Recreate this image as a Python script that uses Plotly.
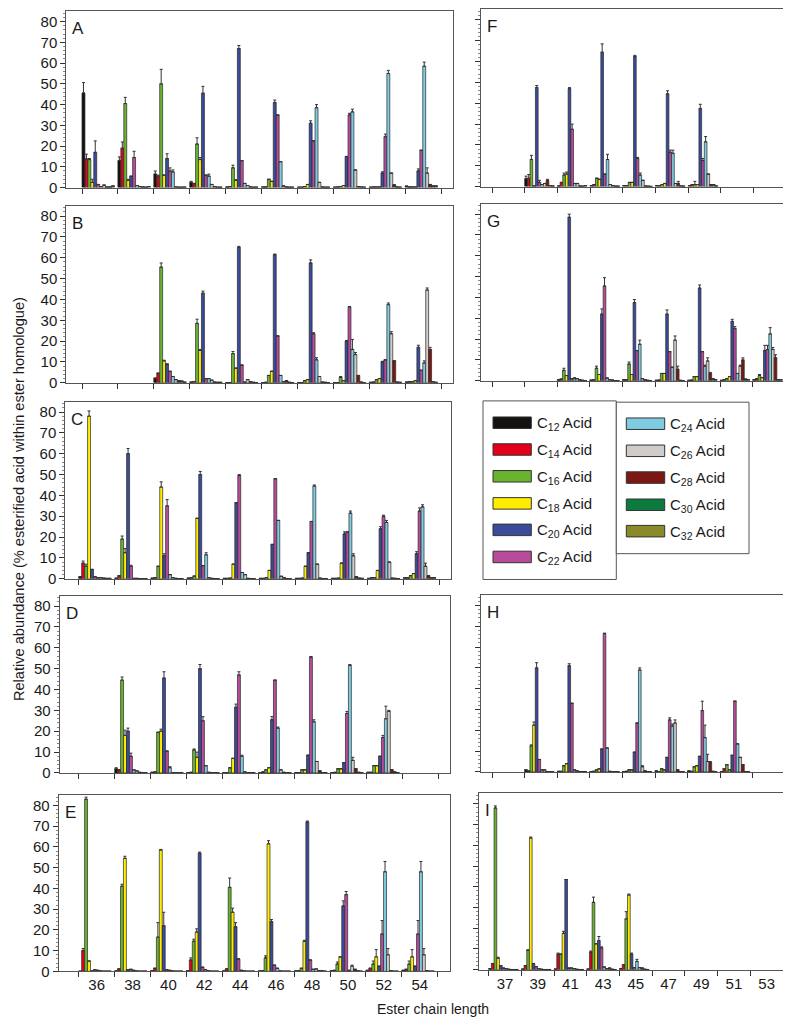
import plotly.graph_objects as go

W, H = 791, 1019

SERIES = ["C<sub>12</sub> Acid", "C<sub>14</sub> Acid", "C<sub>16</sub> Acid", "C<sub>18</sub> Acid",
          "C<sub>20</sub> Acid", "C<sub>22</sub> Acid", "C<sub>24</sub> Acid", "C<sub>26</sub> Acid",
          "C<sub>28</sub> Acid", "C<sub>30</sub> Acid", "C<sub>32</sub> Acid"]
COLORS = ["#141210", "#e2001a", "#69b32e", "#ffec00", "#3b4b9c", "#b84c9a",
          "#7fcbe2", "#cecbc8", "#7c1813", "#0b7a3c", "#8a8a2a"]

LEFT_GROUPS = ["36", "38", "40", "42", "44", "46", "48", "50", "52", "54"]
RIGHT_GROUPS = ["37", "39", "41", "43", "45", "47", "49", "51", "53"]
Y_TICKS = [0, 10, 20, 30, 40, 50, 60, 70, 80]

# rows = ester homologue (group); columns = C12..C32 acids; None = not detected
A_VAL = [
    [45.6, 13.8, 13.5, 2.5, 17.0, 1.5, 0.5, 1.2, 0.3, 0.3, 0.8],
    [13.0, 19.0, 40.5, 3.5, 5.5, 14.5, 1.0, 0.5, 0.3, 0.2, 0.5],
    [6.5, 5.5, 50.0, 6.0, 14.0, 8.0, 7.5, 0.3, 0.2, 0.2, 0.2],
    [2.5, 2.0, 21.0, 13.5, 45.5, 6.0, 5.5, 1.5, 0.5, 0.2, 0.2],
    [0.3, 0.5, 9.5, 3.5, 67.0, 13.0, 2.0, 1.0, 0.3, 0.2, 0.2],
    [0.3, 0.3, 4.0, 3.0, 41.0, 35.0, 12.5, 0.8, 0.3, 0.2, 0.2],
    [0.2, 0.2, 0.5, 1.5, 31.0, 22.5, 38.5, 2.5, 0.3, 0.2, 0.2],
    [0.2, 0.3, 0.5, 1.0, 15.0, 35.0, 36.5, 8.5, 0.5, 0.3, 0.2],
    [0.2, 0.3, 0.3, 0.3, 7.0, 24.5, 55.0, 7.0, 1.3, 0.3, 0.2],
    [0.7, 0.3, 0.3, 0.3, 8.0, 18.0, 58.5, 7.0, 1.5, 0.8, 0.8],
]
A_ERR = [
    [5.0, 2.3, 0.5, 1.5, 5.5, 0, 0, 0, 0, 0, 0],
    [1.8, 3.0, 3.0, 0.5, 0, 3.0, 0, 0, 0, 0, 0],
    [1.5, 0.5, 7.0, 0, 2.3, 1.5, 1.0, 0, 0, 0, 0],
    [0.5, 0, 3.0, 1.0, 3.3, 0, 1.0, 0, 0, 0, 0],
    [0, 0, 1.3, 0.3, 1.5, 0, 0, 0, 0, 0, 0],
    [0, 0, 0, 0, 1.2, 0, 0, 0, 0, 0, 0],
    [0, 0, 0, 0, 1.2, 0, 1.5, 0, 0, 0, 0],
    [0, 0, 0, 0, 0, 0.8, 1.3, 0, 0, 0, 0],
    [0, 0, 0, 0, 0.6, 1.3, 1.5, 0, 0, 0, 0],
    [0, 0, 0, 0, 1.0, 0, 2.0, 2.5, 0, 0, 0],
]

B_VAL = [
    None,
    None,
    [2.2, 4.6, 55.5, 10.5, 9.0, 5.5, 3.0, 1.5, 1.0, 0.8, 0.3],
    [0.3, 0.6, 28.5, 15.5, 43.0, 2.0, 2.0, 1.2, 0.3, 0.2, 0.2],
    [0.1, 0.1, 14.0, 7.0, 65.0, 8.5, 0.3, 1.5, 0.5, 0.2, 0.1],
    [0.1, 0.2, 3.5, 5.5, 61.5, 22.5, 3.5, 0.5, 1.0, 0.2, 0.1],
    [0.1, 0.1, 1.0, 1.5, 57.5, 23.5, 11.0, 3.0, 0.3, 0.2, 0.1],
    [0.1, 0.1, 2.5, 1.0, 20.0, 36.5, 16.0, 13.5, 3.5, 0.3, 0.1],
    [0.2, 0.3, 1.5, 2.0, 10.0, 11.0, 37.5, 23.5, 10.5, 0.3, 0.2],
    [0.3, 0.5, 0.5, 1.0, 17.0, 6.0, 9.5, 44.5, 16.0, 0.5, 0.2],
]
B_ERR = [
    None,
    None,
    [0, 0, 2.0, 0.3, 0, 0, 0, 0, 0, 0, 0],
    [0, 0, 2.0, 0.5, 1.0, 0, 0, 0, 0, 0, 0],
    [0, 0, 1.0, 0, 0.5, 0, 0, 0, 0, 0, 0],
    [0, 0, 0, 0, 0.3, 0, 0, 0, 0, 0, 0],
    [0, 0, 0, 0, 1.5, 0.5, 1.0, 0, 0, 0, 0],
    [0, 0, 0.5, 0, 0.3, 0, 4.8, 1.0, 0, 0, 0],
    [0, 0, 0, 0, 0.3, 0, 0.8, 1.0, 0, 0, 0],
    [0, 0, 0, 0, 1.0, 0, 1.0, 1.0, 1.0, 0, 0],
]

C_VAL = [
    [1.0, 7.5, 6.0, 78.0, 4.5, 1.0, 0.5, 0.5, 0.3, 0.2, 0.2],
    [0.3, 1.5, 19.0, 12.5, 60.0, 6.0, 0.2, 0.2, 0.1, 0.1, 0.1],
    [0.3, 0.5, 6.0, 44.0, 11.0, 35.0, 2.0, 0.5, 0.2, 0.1, 0.1],
    [0.3, 0.5, 1.3, 29.0, 50.0, 6.3, 11.5, 0.5, 0.2, 0.1, 0.1],
    [0.2, 0.2, 0.3, 7.0, 36.5, 49.5, 3.0, 2.0, 0.2, 0.1, 0.1],
    [0.2, 0.2, 0.5, 4.0, 16.5, 48.0, 28.0, 1.2, 0.5, 0.1, 0.1],
    [0.2, 0.2, 0.3, 6.0, 12.5, 27.5, 44.5, 7.0, 0.3, 0.1, 0.1],
    [0.2, 0.2, 0.3, 7.5, 21.5, 22.5, 31.5, 11.0, 1.0, 0.3, 0.2],
    [0.2, 0.5, 0.5, 4.0, 24.0, 30.0, 27.0, 8.0, 0.3, 0.2, 0.1],
    [0.5, 0.5, 1.5, 2.5, 12.0, 32.5, 34.5, 6.0, 1.5, 0.5, 0.5],
]
C_ERR = [
    [0, 1.0, 1.0, 2.5, 0, 0, 0, 0, 0, 0, 0],
    [0, 0, 1.5, 2.0, 2.5, 0.5, 0, 0, 0, 0, 0],
    [0, 0, 0, 2.5, 1.0, 3.0, 0, 0, 0, 0, 0],
    [0, 0, 0, 0, 1.5, 0, 1.0, 0, 0, 0, 0],
    [0, 0, 0, 0, 0, 0.5, 0, 0, 0, 0, 0],
    [0, 0, 0, 0, 0, 0, 0, 0, 0, 0, 0],
    [0, 0, 0, 0, 0, 0, 0.5, 0, 0, 0, 0],
    [0, 0, 0, 0, 1.0, 0, 1.0, 1.0, 0, 0, 0],
    [0, 0, 0, 0, 1.0, 0.5, 1.0, 0, 0, 0, 0],
    [0, 0, 0, 0, 1.0, 1.5, 1.0, 1.5, 0, 0, 0],
]

D_VAL = [
    None,
    [2.0, 1.5, 44.5, 18.0, 20.0, 8.0, 1.5, 1.0, 0.3, 0.2, 0.1],
    [0.3, 0.5, 19.5, 20.0, 45.5, 10.5, 2.5, 0.2, 0.1, 0.1, 0.1],
    [0.2, 0.3, 11.0, 7.5, 50.0, 25.0, 3.5, 0.3, 0.1, 0.1, 0.1],
    [0.2, 0.2, 2.5, 7.0, 31.5, 47.0, 8.0, 0.5, 0.2, 0.1, 0.1],
    [0.2, 0.5, 1.5, 2.5, 25.5, 44.5, 21.5, 1.5, 0.3, 0.1, 0.1],
    [0.2, 0.2, 1.5, 1.5, 8.5, 55.5, 24.5, 5.5, 1.0, 0.2, 0.1],
    [0.2, 0.3, 2.0, 2.0, 5.0, 28.5, 51.5, 6.0, 2.0, 0.3, 0.1],
    [0.3, 0.3, 3.5, 3.5, 8.0, 17.0, 26.0, 29.5, 1.5, 0.5, 0.2],
    None,
]
D_ERR = [
    None,
    [0.5, 0, 1.5, 2.5, 1.5, 1.5, 0, 0, 0, 0, 0],
    [0, 0, 0, 1.0, 3.0, 0, 0.5, 0, 0, 0, 0],
    [0, 0, 0.5, 2.5, 2.0, 2.0, 0, 0, 0, 0, 0],
    [0, 0, 0, 0, 1.5, 1.5, 0.5, 0, 0, 0, 0],
    [0, 0, 0, 0, 1.5, 0, 0.5, 0, 0, 0, 0],
    [0, 0, 0, 0, 0, 0.3, 1.0, 0, 0, 0, 0],
    [0, 0, 0, 0, 0, 1.0, 0.5, 1.5, 0, 0, 0],
    [0, 0, 0, 0, 0, 1.0, 6.0, 0.5, 0, 0, 0],
    None,
]

E_VAL = [
    [0.1, 10.0, 83.0, 5.0, 0.2, 0.8, 0.5, 0.2, 0.1, 0.1, 0.1],
    [0.2, 1.2, 41.0, 54.5, 0.8, 1.0, 0.5, 0.2, 0.1, 0.1, 0.1],
    [0.3, 1.5, 16.5, 58.5, 22.0, 0.8, 0.5, 0.2, 0.1, 0.1, 0.1],
    [0.3, 5.5, 14.5, 19.0, 57.0, 2.0, 0.8, 0.3, 0.1, 0.1, 0.1],
    [0.2, 1.2, 40.5, 28.5, 21.5, 6.0, 0.5, 0.2, 0.1, 0.1, 0.1],
    [0.2, 0.3, 6.5, 61.5, 24.0, 3.0, 1.5, 0.2, 0.1, 0.1, 0.1],
    [0.2, 0.3, 1.5, 14.5, 72.0, 5.5, 1.0, 1.2, 0.3, 0.3, 0.1],
    [0.3, 0.5, 3.5, 7.0, 31.5, 37.0, 0.5, 2.5, 1.0, 0.3, 0.1],
    [0.5, 1.5, 3.5, 7.0, 2.5, 18.0, 48.0, 8.0, 0.3, 0.1, 0.1],
    [0.5, 1.0, 3.5, 7.0, 2.5, 18.0, 48.0, 8.0, 0.3, 0.1, 0.1],
]
E_ERR = [
    [0, 1.0, 1.0, 0, 0, 0, 0, 0, 0, 0, 0],
    [0, 0, 1.0, 1.0, 0, 0, 0, 0, 0, 0, 0],
    [0, 0, 7.0, 0.3, 6.5, 0, 0, 0, 0, 0, 0],
    [0, 1.0, 1.0, 1.5, 0.5, 0, 0, 0, 0, 0, 0],
    [0, 0, 4.5, 2.0, 2.0, 0, 0, 0, 0, 0, 0],
    [0, 0, 1.0, 1.5, 1.0, 0, 0, 0, 0, 0, 0],
    [0, 0, 0, 0.5, 0.5, 0, 0, 0, 0, 0, 0],
    [0, 0, 1.0, 0, 2.5, 1.5, 0, 0.5, 0, 0, 0],
    [0, 0, 1.5, 3.5, 0, 6.5, 5.0, 3.0, 0, 0, 0],
    [0, 0, 1.5, 3.5, 0, 6.5, 5.0, 3.0, 0, 0, 0],
]

F_VAL = [
    None,
    [3.8, 4.0, 13.0, 0.3, 47.5, 2.0, 1.0, 1.5, 3.0, 0.5, 0.3],
    [0.3, 2.0, 5.5, 6.0, 47.0, 27.5, 1.5, 1.5, 0.3, 0.2, 0.5],
    [0.5, 1.0, 4.0, 3.5, 64.5, 6.0, 13.0, 1.0, 0.5, 0.2, 0.2],
    [0.5, 0.5, 2.0, 2.0, 62.5, 13.5, 5.5, 3.0, 0.3, 0.2, 0.1],
    [0.5, 0.5, 1.0, 1.5, 44.5, 16.5, 16.0, 1.5, 1.5, 0.3, 0.2],
    [0.5, 1.0, 1.0, 1.0, 37.5, 12.5, 21.5, 6.0, 1.0, 1.0, 0.3],
    None,
    None,
]
F_ERR = [
    None,
    [1.2, 1.8, 2.0, 0, 1.0, 1.0, 0, 0, 0.5, 0, 0],
    [0, 0, 1.0, 1.0, 0.5, 2.5, 0, 0, 0, 0, 0],
    [0, 0, 0, 0, 4.0, 0, 2.5, 0, 0, 0, 0],
    [0, 0, 0, 0, 0.5, 0.5, 1.0, 0, 0, 0, 0],
    [0, 0, 0, 0, 1.5, 1.0, 1.5, 0, 1.0, 0, 0],
    [0, 0, 1.5, 0, 2.0, 1.0, 2.5, 0, 0, 0, 0],
    None,
    None,
]

G_VAL = [
    None,
    None,
    [0.5, 0.8, 5.0, 2.5, 78.5, 1.0, 1.0, 1.0, 0.5, 0.2, 0.1],
    [0.3, 0.5, 6.0, 3.0, 32.0, 45.5, 1.3, 0.5, 0.3, 0.1, 0.1],
    [0.5, 0.5, 8.0, 3.0, 37.5, 14.5, 17.5, 1.0, 0.5, 0.2, 0.1],
    [0.2, 0.3, 3.5, 3.5, 32.0, 14.0, 6.5, 19.5, 5.5, 0.2, 0.1],
    [0.2, 0.3, 2.0, 2.0, 44.5, 14.0, 7.0, 9.5, 3.5, 1.0, 0.5],
    [0.2, 0.5, 1.0, 2.0, 28.5, 25.0, 3.5, 7.0, 10.0, 0.8, 0.5],
    [0.5, 1.0, 2.5, 1.5, 14.5, 15.0, 22.5, 15.0, 11.0, 0.5, 0.5],
]
G_ERR = [
    None,
    None,
    [0, 0, 1.0, 0, 1.5, 0, 0.5, 0, 0, 0, 0],
    [0, 0, 1.0, 0, 2.5, 4.0, 0, 0, 0, 0, 0],
    [0, 0, 1.0, 0, 1.5, 0, 2.0, 0, 0, 0, 0],
    [0, 0, 0, 0, 2.0, 0, 0, 2.0, 1.5, 0, 0],
    [0, 0, 0, 0, 1.5, 0, 0.5, 1.5, 0.5, 0, 0],
    [0, 0, 0, 0, 1.0, 1.0, 0, 0.5, 1.0, 0, 0],
    [0, 0, 0.5, 0, 2.5, 2.0, 3.0, 1.0, 1.5, 0, 0],
]

H_VAL = [
    None,
    [1.0, 0.5, 12.5, 22.5, 50.0, 6.0, 1.0, 1.0, 0.2, 0.1, 0.1],
    [0.3, 0.3, 3.0, 4.0, 51.0, 33.0, 1.0, 0.5, 0.2, 0.1, 0.1],
    [0.2, 0.3, 1.0, 1.5, 11.0, 66.5, 11.5, 0.3, 0.1, 0.1, 0.1],
    [0.2, 0.3, 1.0, 1.0, 9.5, 23.5, 49.0, 2.5, 0.5, 0.1, 0.1],
    [0.5, 0.2, 1.5, 1.0, 7.0, 25.0, 22.0, 23.5, 1.0, 0.2, 0.1],
    [0.5, 0.3, 2.5, 3.0, 7.5, 29.5, 16.5, 5.0, 4.5, 0.3, 0.1],
    [0.2, 1.5, 3.5, 1.0, 8.0, 34.0, 13.5, 7.0, 3.5, 0.2, 0.1],
    None,
]
H_ERR = [
    None,
    [0, 0, 0.5, 1.5, 2.5, 0, 0, 0, 0, 0, 0],
    [0, 0, 0, 0, 1.0, 0, 0, 0, 0, 0, 0],
    [0, 0, 0, 0, 0, 0.2, 0, 0, 0, 0, 0],
    [0, 0, 0, 0, 0, 0, 1.0, 0.5, 0, 0, 0],
    [0, 0, 0, 0, 0, 1.0, 1.0, 1.5, 0, 0, 0],
    [0, 0, 0, 0, 0, 4.5, 6.0, 3.5, 0.5, 0, 0],
    [0, 0, 0, 0, 0, 0, 0, 0, 0, 0, 0],
    None,
]

I_VAL = [
    [0.5, 3.0, 78.0, 5.5, 2.0, 0.8, 0.5, 0.2, 0.1, 0.1, 0.1],
    [0.3, 2.0, 9.5, 63.5, 3.0, 1.5, 0.5, 0.2, 0.1, 0.1, 0.1],
    [0.3, 7.5, 7.5, 17.5, 43.5, 0.8, 0.8, 0.5, 0.2, 0.1, 0.1],
    [0.3, 8.5, 32.5, 12.5, 14.0, 10.5, 1.3, 0.5, 0.8, 0.2, 0.1],
    [0.5, 2.5, 24.5, 36.0, 7.5, 1.0, 4.0, 1.0, 0.8, 0.2, 0.1],
    None,
    None,
    None,
    None,
]
I_ERR = [
    [0, 0, 1.0, 0.5, 0, 0, 0, 0, 0, 0, 0],
    [0, 0, 0, 0.5, 0, 0, 0, 0, 0, 0, 0],
    [0, 0.5, 0, 1.0, 0, 0, 0, 0, 0, 0, 0],
    [0, 0.5, 2.5, 0, 2.0, 0.5, 0, 0, 0, 0, 0],
    [0, 0, 3.5, 0.5, 0.5, 0, 1.0, 0, 0, 0, 0],
    None,
    None,
    None,
    None,
]

FONT = "Liberation Sans, Arial, Helvetica, sans-serif"
TXT = "#1a1a1a"

def px(x):
    return x / W

def py(y):
    return 1 - y / H

# panel frames in pixels: (L, R, top, bottom, first tick x, tick spacing)
PANELS = [
    ("A", A_VAL, A_ERR, LEFT_GROUPS, (58.3, 445.0, 3.3, 181.0, 74.0, 35.9), True, False),
    ("B", B_VAL, B_ERR, LEFT_GROUPS, (58.3, 445.0, 199.3, 377.7, 74.0, 35.9), True, False),
    ("C", C_VAL, C_ERR, LEFT_GROUPS, (57.3, 443.3, 396.7, 575.3, 70.7, 36.07), True, False),
    ("D", D_VAL, D_ERR, LEFT_GROUPS, (51.7, 441.7, 592.3, 771.0, 70.7, 36.0), True, False),
    ("E", E_VAL, E_ERR, LEFT_GROUPS, (50.7, 441.7, 793.3, 971.0, 70.7, 35.9), True, True),
    ("F", F_VAL, F_ERR, RIGHT_GROUPS, (473.3, 787.7, 1.5, 180.0, 484.0, 32.7), False, False),
    ("G", G_VAL, G_ERR, RIGHT_GROUPS, (473.3, 787.7, 197.3, 375.7, 484.0, 32.6), False, False),
    ("H", H_VAL, H_ERR, RIGHT_GROUPS, (473.3, 786.7, 591.7, 770.0, 484.0, 32.6), False, False),
    ("I", I_VAL, I_ERR, RIGHT_GROUPS, (471.0, 783.3, 791.7, 969.3, 480.7, 32.7), False, True),
]

NS = len(SERIES)
BW = 0.082

fig = go.Figure()
layout = {}
annotations = []
shapes = []

for k, (letter, vals, errs, groups, box, ylab, xlab) in enumerate(PANELS):
    L, R, T, B, t0, s = box
    xa = "x" if k == 0 else f"x{k+1}"
    ya = "y" if k == 0 else f"y{k+1}"
    for j in range(NS):
        yv = [row[j] if row is not None else None for row in vals]
        ev = [row[j] if row is not None else 0 for row in errs]
        fig.add_trace(go.Bar(
            x=groups, y=yv, name=SERIES[j],
            offset=-0.5 + j * BW, width=BW,
            marker=dict(color=COLORS[j], line=dict(color="#2a2a2a", width=0.7)),
            error_y=dict(type="data", symmetric=False, array=ev,
                         arrayminus=[0] * len(ev), color="#333333",
                         thickness=1, width=1.5),
            xaxis=xa, yaxis=ya, showlegend=False,
        ))
    r0 = -0.5 - (t0 - L) / s
    r1 = -0.5 + (R - t0) / s
    layout["xaxis" if k == 0 else f"xaxis{k+1}"] = dict(
        domain=[px(L), px(R)], anchor=ya, type="category",
        categoryorder="array", categoryarray=groups, range=[r0, r1],
        tickson="boundaries", ticks="outside", ticklen=5, tickcolor="#333",
        showline=True, linecolor="#555", linewidth=1, mirror=True,
        showgrid=False, zeroline=False, showticklabels=xlab,
        tickfont=dict(family=FONT, size=15, color=TXT), fixedrange=True,
    )
    layout["yaxis" if k == 0 else f"yaxis{k+1}"] = dict(
        domain=[py(B), py(T)], anchor=xa, range=[0, 85],
        tickvals=Y_TICKS, ticks="outside", ticklen=5, tickcolor="#333",
        minor=dict(dtick=2, ticks="outside", ticklen=2, tickcolor="#888"),
        showline=True, linecolor="#555", linewidth=1, mirror=True,
        showgrid=False, zeroline=False, showticklabels=ylab,
        tickfont=dict(family=FONT, size=15, color=TXT), fixedrange=True,
    )
    annotations.append(dict(
        text=letter, x=px(L + 4), y=py(T + 6), xref="paper", yref="paper",
        xanchor="left", yanchor="top", showarrow=False,
        font=dict(family=FONT, size=17, color=TXT),
    ))

# legend (two boxes)
shapes.append(dict(type="rect", xref="paper", yref="paper",
                   x0=px(475), x1=px(608.3), y0=py(576), y1=py(396),
                   line=dict(color="#555", width=1), fillcolor="white", layer="above"))
shapes.append(dict(type="rect", xref="paper", yref="paper",
                   x0=px(608.3), x1=px(741), y0=py(550), y1=py(397.3),
                   line=dict(color="#555", width=1), fillcolor="white", layer="above"))
rows1 = [418, 445, 472, 499.3, 526, 553.3]
rows2 = [419, 446.3, 473.3, 500.7, 527.3]
for j in range(NS):
    if j < 6:
        yc, xs0, xs1, xt = rows1[j], 485, 523.3, 527
    else:
        yc, xs0, xs1, xt = rows2[j - 6], 618.3, 656.7, 659.5
    shapes.append(dict(type="rect", xref="paper", yref="paper",
                       x0=px(xs0), x1=px(xs1), y0=py(yc + 5.8), y1=py(yc - 5.8),
                       line=dict(color="#333", width=1), fillcolor=COLORS[j], layer="above"))
    annotations.append(dict(
        text=SERIES[j], x=px(xt), y=py(yc + 1), xref="paper", yref="paper",
        xanchor="left", yanchor="middle", showarrow=False,
        font=dict(family=FONT, size=15, color=TXT),
    ))

annotations.append(dict(
    text="Relative abundance (% esterified acid within ester homologue)",
    x=px(11), y=py(495), xref="paper", yref="paper", textangle=-90,
    xanchor="center", yanchor="middle", showarrow=False,
    font=dict(family=FONT, size=14.6, color=TXT),
))
annotations.append(dict(
    text="Ester chain length", x=px(425), y=py(1009), xref="paper", yref="paper",
    xanchor="center", yanchor="middle", showarrow=False,
    font=dict(family=FONT, size=14, color=TXT),
))

fig.update_layout(
    width=W, height=H, autosize=False,
    margin=dict(l=0, r=0, t=0, b=0),
    paper_bgcolor="white", plot_bgcolor="white",
    barmode="overlay", showlegend=False,
    annotations=annotations, shapes=shapes,
    font=dict(family=FONT, color=TXT),
    **layout,
)

fig.write_html("out.html")
